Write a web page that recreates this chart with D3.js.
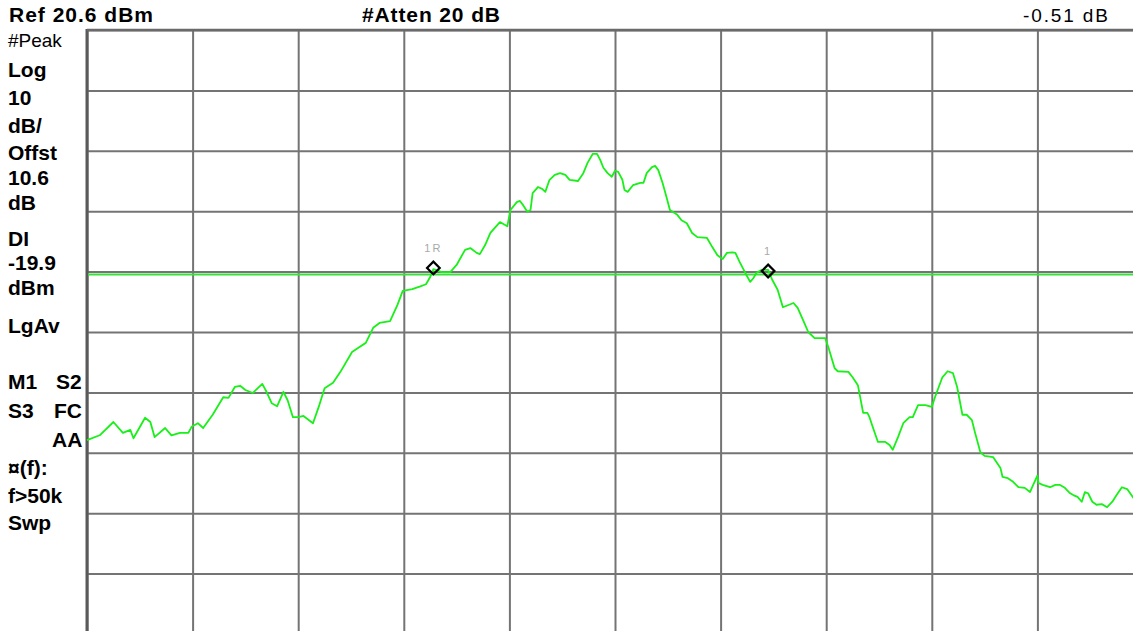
<!DOCTYPE html>
<html>
<head>
<meta charset="utf-8">
<script src="https://cdn.jsdelivr.net/npm/d3@7"></script>
<style>
  body { margin: 0; background: #fff; }
  svg { display: block; font-family: "Liberation Sans", Arial, sans-serif; }
</style>
</head>
<body>
<div id="chart"></div>
<script>
// screen size and plot box (10 x 10 divisions, the right/bottom edge runs off screen)
var W = 1133, H = 631;
var plot = { left: 87, top: 30, right: 1143, bottom: 634 };

// analyzer settings
var refLevel = 20.6;   // dBm, top line
var dbPerDiv = 10;
var displayLine = -19.9;

// trace: horizontal position in divisions, amplitude in dBm
var traceDiv = [0.00,0.12,0.25,0.34,0.41,0.44,0.55,0.60,0.64,0.74,0.80,0.88,0.96,0.99,1.05,1.10,1.19,1.29,1.34,1.40,
  1.45,1.50,1.57,1.66,1.70,1.75,1.80,1.86,1.90,1.95,2.00,2.05,2.14,2.20,2.25,2.33,
  2.40,2.51,2.57,2.64,2.71,2.77,2.87,2.94,2.99,3.08,3.15,3.21,3.25,3.28,3.36,3.44,3.50,3.58,3.63,3.69,
  3.72,3.77,3.82,3.91,3.98,4.01,4.07,4.10,4.13,4.17,4.20,4.22,4.27,4.31,4.34,4.38,4.43,4.48,4.53,4.57,
  4.65,4.70,4.74,4.79,4.83,4.86,4.89,4.93,4.97,5.00,5.03,5.07,5.09,5.12,5.17,5.24,5.27,5.30,5.35,5.38,
  5.41,5.45,5.49,5.52,5.59,5.63,5.68,5.73,5.78,5.87,5.92,5.97,6.02,6.06,6.11,6.14,6.18,6.23,6.28,6.31,
  6.34,6.39,6.45,6.49,6.54,6.59,6.69,6.73,6.78,6.83,6.89,6.99,7.02,7.08,7.11,7.21,7.25,7.30,7.35,7.39,
  7.41,7.44,7.49,7.56,7.60,7.63,7.68,7.73,7.79,7.82,7.87,7.94,8.00,8.03,8.10,8.15,8.20,8.24,8.29,8.33,
  8.38,8.41,8.46,8.50,8.58,8.65,8.67,8.72,8.77,8.82,8.88,8.93,8.96,9.00,9.01,9.05,9.12,9.17,9.21,9.26,
  9.31,9.34,9.38,9.42,9.45,9.48,9.52,9.56,9.61,9.66,9.71,9.75,9.80,9.85,9.91,10.00];
var traceDbm = [-47.3,-46.5,-44.3,-46.1,-45.6,-47.0,-43.6,-44.3,-46.8,-45.3,-46.5,-46.1,-46.1,-45.1,-44.5,-45.3,-43.1,-40.2,-40.3,-38.5,
  -38.3,-39.0,-39.5,-38.0,-39.3,-41.2,-41.7,-39.3,-40.7,-43.5,-43.5,-43.3,-44.5,-41.5,-38.7,-37.8,
  -36.0,-32.7,-32.0,-31.2,-28.7,-27.9,-27.6,-24.9,-22.6,-22.3,-21.9,-21.5,-20.3,-19.0,-19.5,-19.5,-18.3,-15.8,-15.5,-16.3,
  -16.5,-15.0,-13.0,-11.2,-11.9,-9.2,-7.9,-7.7,-8.4,-9.5,-9.2,-6.4,-5.4,-5.7,-6.2,-4.2,-3.4,-3.1,-3.4,-4.2,
  -4.4,-3.1,-1.4,0.1,0.1,-0.9,-2.2,-3.1,-3.7,-2.7,-2.9,-4.2,-5.9,-6.2,-5.1,-4.7,-4.7,-3.1,-2.1,-1.9,
  -2.6,-4.7,-7.2,-9.2,-10.0,-10.9,-11.4,-13.0,-13.7,-13.8,-15.3,-16.7,-17.3,-16.3,-16.2,-16.3,-17.8,-19.5,-21.1,-20.5,
  -19.6,-19.1,-19.1,-20.8,-22.4,-25.3,-24.6,-25.4,-27.4,-29.4,-30.4,-30.4,-31.9,-35.4,-35.9,-36.0,-36.9,-38.2,-42.8,-42.8,
  -43.5,-45.1,-47.6,-47.6,-48.1,-48.9,-46.8,-44.5,-43.5,-43.5,-41.5,-41.5,-41.8,-40.2,-36.9,-35.9,-36.2,-38.5,-43.1,-43.1,
  -44.0,-46.1,-49.3,-49.9,-50.1,-51.9,-53.4,-53.6,-54.2,-55.1,-55.2,-55.9,-54.7,-53.2,-54.4,-54.7,-55.1,-54.7,-54.7,-55.2,
  -56.1,-56.4,-56.7,-57.5,-55.9,-56.1,-57.5,-58.0,-57.9,-58.4,-57.5,-56.4,-55.1,-55.4,-56.9,-57.5];

// markers
var markerNames = ["1R", "1"];
var markerDiv = [3.28, 6.45];
var markerDbm = [-18.8, -19.3];

// annotation texts
var headerTexts = ["Ref 20.6 dBm", "#Atten 20 dB", "-0.51 dB"];
var sideTexts = ["#Peak", "Log", "10", "dB/", "Offst", "10.6", "dB", "DI", "-19.9", "dBm", "LgAv",
  "M1", "S2", "S3", "FC", "AA", "\u00a4(f):", "f>50k", "Swp"];

var svg = d3.select("#chart").append("svg")
    .attr("width", W)
    .attr("height", H);

svg.append("rect").attr("width", W).attr("height", H).attr("fill", "#fff");

var x = d3.scaleLinear().domain([0, 10]).range([plot.left, plot.right]);
var y = d3.scaleLinear()
    .domain([refLevel - 10 * dbPerDiv, refLevel])
    .range([plot.bottom, plot.top]);

var yGrid = d3.range(0, 11).map(function (i) { return refLevel - i * dbPerDiv; });

// vertical grid lines
svg.append("g")
    .attr("class", "grid")
    .attr("transform", "translate(0," + plot.bottom + ")")
    .call(d3.axisBottom(x).ticks(10).tickSize(-(plot.bottom - plot.top)).tickFormat(""));
// horizontal grid lines
svg.append("g")
    .attr("class", "grid")
    .attr("transform", "translate(" + plot.left + ",0)")
    .call(d3.axisLeft(y).tickValues(yGrid).tickSize(-(plot.right - plot.left)).tickFormat(""));

svg.selectAll(".grid .domain").remove();
svg.selectAll(".grid line")
    .attr("stroke", "#747474")
    .attr("stroke-width", 2);

// frame: heavier left and top edges
svg.append("line")
    .attr("x1", x(0)).attr("x2", x(0))
    .attr("y1", y(refLevel) - 1).attr("y2", H)
    .attr("stroke", "#5a5a5a").attr("stroke-width", 3);
svg.append("line")
    .attr("x1", x(0)).attr("x2", W)
    .attr("y1", y(refLevel)).attr("y2", y(refLevel))
    .attr("stroke", "#6a6a6a").attr("stroke-width", 2.5);

// display line
svg.append("line")
    .attr("x1", x(0) + 1).attr("x2", W)
    .attr("y1", y(displayLine)).attr("y2", y(displayLine))
    .attr("stroke", "#3be03b").attr("stroke-width", 2);

// trace
var trace = d3.zip(traceDiv, traceDbm);
svg.append("path")
    .datum(trace)
    .attr("fill", "none")
    .attr("stroke", "#19f019")
    .attr("stroke-width", 1.8)
    .attr("stroke-linejoin", "round")
    .attr("d", d3.line()
        .x(function (d) { return x(d[0]); })
        .y(function (d) { return y(d[1]); }));

// markers
var markers = markerNames.map(function (n, i) {
    return { name: n, div: markerDiv[i], dbm: markerDbm[i] };
});
var mk = svg.append("g").selectAll("g")
    .data(markers)
    .enter().append("g")
    .attr("transform", function (d) { return "translate(" + x(d.div) + "," + y(d.dbm) + ")"; });
mk.append("path")
    .attr("d", d3.symbol().type(d3.symbolSquare).size(80))
    .attr("transform", "rotate(45)")
    .attr("fill", "none")
    .attr("stroke", "#000")
    .attr("stroke-width", 2.2);
mk.append("text")
    .attr("y", -16)
    .attr("text-anchor", "middle")
    .attr("font-size", 11)
    .attr("letter-spacing", 2)
    .attr("fill", "#a8a8a8")
    .text(function (d) { return d.name; });

// header texts
svg.append("text").attr("x", 9).attr("y", 22)
    .attr("font-size", 21).attr("font-weight", "bold")
    .attr("textLength", 144).attr("lengthAdjust", "spacing")
    .text(headerTexts[0]);
svg.append("text").attr("x", 362).attr("y", 22)
    .attr("font-size", 21).attr("font-weight", "bold")
    .attr("textLength", 138).attr("lengthAdjust", "spacing")
    .text(headerTexts[1]);
svg.append("text").attr("x", 1023).attr("y", 22)
    .attr("font-size", 19)
    .attr("textLength", 85).attr("lengthAdjust", "spacing")
    .text(headerTexts[2]);

// left annotation column: [text index, x, baseline, bold]
var sideLayout = [
    [0, 8, 47, false], [1, 8, 77, true], [2, 8, 105, true], [3, 8, 133, true],
    [4, 8, 160, true], [5, 8, 185, true], [6, 8, 210, true], [7, 8, 246, true],
    [8, 8, 270, true], [9, 8, 295, true], [10, 8, 333, true], [11, 8, 389, true],
    [12, 56, 389, true], [13, 8, 418, true], [14, 54, 418, true], [15, 52, 447, true],
    [16, 8, 475, true], [17, 8, 503, true], [18, 8, 530, true]
];
svg.append("g").selectAll("text")
    .data(sideLayout)
    .enter().append("text")
    .attr("x", function (d) { return d[1]; })
    .attr("y", function (d) { return d[2]; })
    .attr("font-size", function (d) { return d[3] ? 21 : 19; })
    .attr("font-weight", function (d) { return d[3] ? "bold" : "normal"; })
    .text(function (d) { return sideTexts[d[0]]; });
</script>
</body>
</html>
